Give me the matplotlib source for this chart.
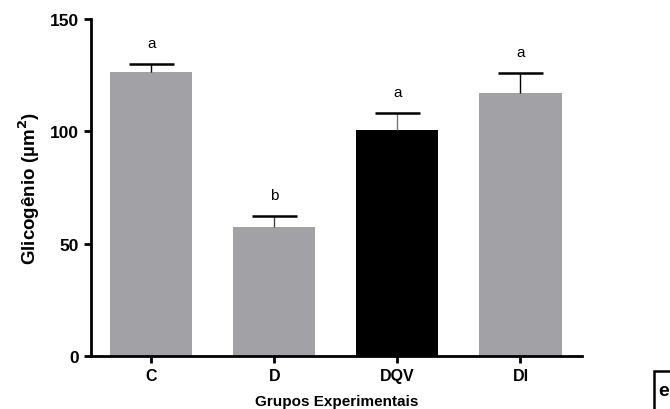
import matplotlib.pyplot as plt
from matplotlib.patches import Rectangle
import numpy as np

plt.rcParams['font.family'] = ['Liberation Sans', 'DejaVu Sans']

# Glycogen area per experimental group (mean and SEM)
groups = ['C', 'D', 'DQV', 'DI']
means = [126.3, 57.3, 100.8, 117.1]
sem = [3.6, 5.2, 7.5, 8.9]
letters = ['a', 'b', 'a', 'a']
bar_colors = ['#a2a1a6', '#a2a1a6', '#000000', '#a2a1a6']

fig = plt.figure(figsize=(6.7, 4.1), dpi=100)
ax = fig.add_axes([91 / 670, 1 - 357 / 410, (582 - 91) / 670, (357 - 20) / 410])

x = np.arange(len(groups))
tops = np.array(means) + np.array(sem)
ax.bar(x, means, width=0.667, color=bar_colors, zorder=2)

# upper error bars only
ax.vlines(x, means, tops, colors=['black', '#444444', '#777777', 'black'],
          linewidth=1.0, zorder=3)
ax.hlines(tops, x - 0.183, x + 0.183, colors='black', linewidth=1.8, zorder=3)

# significance letters above the error bars
for xi, t, lab in zip(x, tops, letters):
    ax.annotate(lab, (xi, t), xytext=(0, 10), textcoords='offset points',
                ha='center', va='bottom', fontsize=11)

ax.set_xlim(-0.49, 3.5)
ax.set_ylim(0, 150)
ax.set_yticks([0, 50, 100, 150])
ax.set_xticks(x)
ax.set_xticklabels(groups)

for side in ['top', 'right']:
    ax.spines[side].set_visible(False)
for side in ['left', 'bottom']:
    ax.spines[side].set_linewidth(2)

ax.tick_params(axis='both', direction='out', length=5, width=2)
ax.tick_params(axis='x', labelsize=11.5)
ax.tick_params(axis='y', labelsize=12.5)
for lbl in ax.get_xticklabels() + ax.get_yticklabels():
    lbl.set_fontweight('bold')

ax.set_xlabel('Grupos Experimentais', fontsize=11, fontweight='bold', labelpad=8)
ax.set_ylabel('Glicogênio (µm$^\\mathbf{2}$)', fontsize=13.5, fontweight='bold', labelpad=6)

# panel tag in the lower right corner
fig.add_artist(Rectangle((654 / 670, -0.02), 0.05, 1 - 372 / 410 + 0.02,
                         transform=fig.transFigure, facecolor='white',
                         edgecolor='black', linewidth=1.8, clip_on=False))
fig.text(658 / 670, 1 - 392 / 410, 'e', fontsize=14, fontweight='bold',
         ha='left', va='center')

fig.savefig('out.png', dpi=100)
